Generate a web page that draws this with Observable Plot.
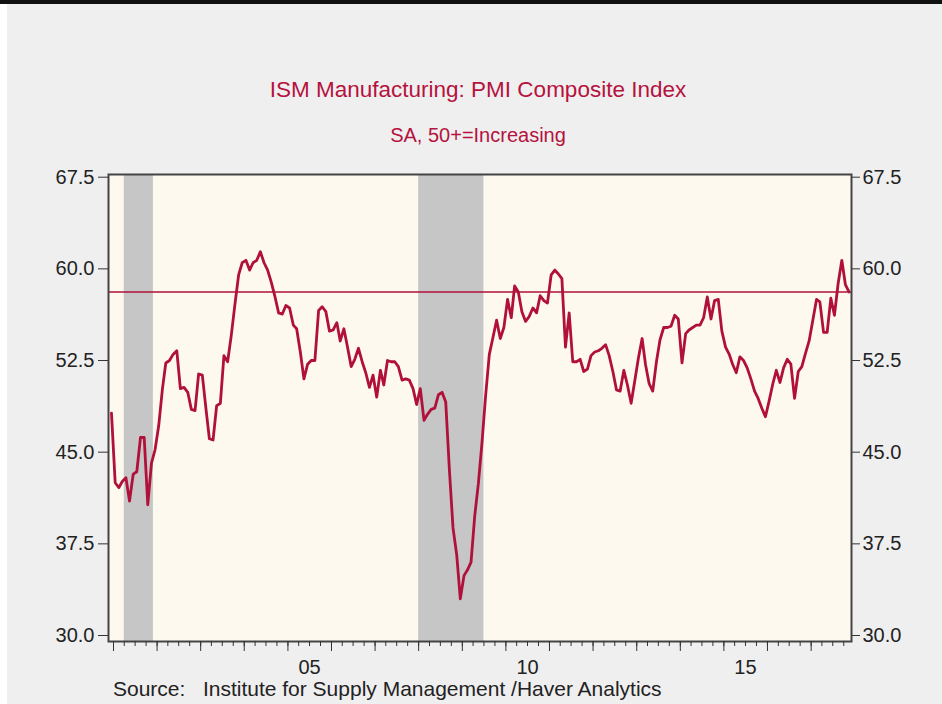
<!DOCTYPE html>
<html>
<head>
<meta charset="utf-8">
<script src="https://cdn.jsdelivr.net/npm/d3@7"></script>
<script src="https://cdn.jsdelivr.net/npm/@observablehq/plot@0.6"></script>
<style>
  html, body { margin: 0; padding: 0; background: #efefef; }
  #page { position: relative; width: 942px; height: 704px; background: #efefef; overflow: hidden;
          font-family: "Liberation Sans", Arial, sans-serif; }
  #topbar { position: absolute; left: 0; top: 0; width: 942px; height: 4px; background: #111; }
  #leftstrip { position: absolute; left: 0; top: 4px; width: 7px; height: 700px; background: #fff; }
  .head { position: absolute; left: 7px; width: 942px; text-align: center; color: #b5123e; line-height: 1; white-space: nowrap; }
  #title { top: 79px; font-size: 22.5px; }
  #subtitle { top: 125px; font-size: 20px; }
  #chart { position: absolute; left: 0; top: 150px; }
  #source { position: absolute; left: 113px; top: 678px; font-size: 21px; line-height: 1; color: #222; white-space: pre; }
</style>
</head>
<body>
<div id="page">
  <div id="topbar"></div>
  <div id="leftstrip"></div>
  <div id="title" class="head">ISM Manufacturing: PMI Composite Index</div>
  <div id="subtitle" class="head">SA, 50+=Increasing</div>
  <div id="chart"></div>
  <div id="source">Source:   Institute for Supply Management /Haver Analytics</div>
</div>
<script>
// ---- Data: ISM Manufacturing PMI, monthly (SA) ----
const pmiDec2000 = [48.2];
const pmi2001 = [42.5, 42.1, 42.6, 42.9, 41.0, 43.2, 43.4, 46.2, 46.2, 40.7, 44.1, 45.2];
const pmi2002 = [47.2, 50.2, 52.3, 52.5, 53.0, 53.3, 50.2, 50.3, 49.9, 48.5, 48.4, 51.4];
const pmi2003 = [51.3, 48.5, 46.1, 46.0, 48.8, 49.0, 52.9, 52.4, 54.6, 57.1, 59.5, 60.5];
const pmi2004 = [60.7, 59.9, 60.5, 60.7, 61.4, 60.5, 59.9, 58.9, 57.7, 56.4, 56.3, 57.0];
const pmi2005 = [56.8, 55.4, 55.1, 53.2, 51.0, 52.2, 52.5, 52.5, 56.6, 56.9, 56.5, 54.9];
const pmi2006 = [55.0, 55.6, 54.1, 55.1, 53.6, 52.0, 52.6, 53.5, 52.4, 51.5, 50.3, 51.3];
const pmi2007 = [49.5, 51.7, 50.5, 52.5, 52.4, 52.4, 52.0, 50.9, 51.0, 50.9, 50.2, 48.9];
const pmi2008 = [50.2, 47.6, 48.1, 48.5, 48.6, 49.7, 49.9, 49.1, 43.5, 38.8, 36.6, 33.0];
const pmi2009 = [34.9, 35.4, 36.0, 39.8, 42.4, 45.8, 49.6, 53.0, 54.4, 55.8, 54.3, 55.2];
const pmi2010 = [57.5, 56.0, 58.6, 58.1, 56.5, 55.7, 56.1, 56.8, 56.4, 57.8, 57.4, 57.2];
const pmi2011 = [59.5, 59.9, 59.6, 59.2, 53.6, 56.4, 52.4, 52.4, 52.6, 51.6, 51.8, 52.9];
const pmi2012 = [53.2, 53.3, 53.5, 53.8, 52.9, 51.6, 50.1, 50.0, 51.7, 50.5, 49.0, 50.8];
const pmi2013 = [52.7, 54.3, 52.2, 50.6, 50.0, 52.4, 54.2, 55.2, 55.2, 55.3, 56.2, 55.9];
const pmi2014 = [52.3, 54.7, 55.0, 55.2, 55.4, 55.4, 56.0, 57.7, 55.9, 57.4, 57.5, 54.9];
const pmi2015 = [53.6, 53.0, 52.2, 51.5, 52.8, 52.5, 51.9, 51.0, 50.0, 49.4, 48.6, 47.9];
const pmi2016 = [49.2, 50.6, 51.7, 50.7, 51.9, 52.6, 52.2, 49.4, 51.6, 52.0, 53.1, 54.1];
const pmi2017 = [55.8, 57.5, 57.3, 54.8, 54.8, 57.6, 56.2, 58.8, 60.7, 58.7, 58.1];

// Reference line (latest value)
const latestValue = [58.1];

// Recession periods (shaded)
const recessionStarts = ["2001-04-01", "2008-01-01"];
const recessionEnds   = ["2001-12-01", "2009-07-01"];

// Axis ticks and labels
const yTicks = [30.0, 37.5, 45.0, 52.5, 60.0, 67.5];
const yDomain = [29.51, 67.72];
const xLabelYears = [2005, 2010, 2015];
const xLabelTexts = ["05", "10", "15"];
const xDomain = ["2000-11-20", "2017-12-05"];

// ---- Build table ----
const yearSeries = [
  [2001, pmi2001], [2002, pmi2002], [2003, pmi2003], [2004, pmi2004], [2005, pmi2005],
  [2006, pmi2006], [2007, pmi2007], [2008, pmi2008], [2009, pmi2009], [2010, pmi2010],
  [2011, pmi2011], [2012, pmi2012], [2013, pmi2013], [2014, pmi2014], [2015, pmi2015],
  [2016, pmi2016], [2017, pmi2017]
];
const data = [{date: new Date(Date.UTC(2000, 11, 15)), value: pmiDec2000[0]}];
for (const [yr, vals] of yearSeries) {
  vals.forEach((v, i) => data.push({date: new Date(Date.UTC(yr, i, 15)), value: v}));
}
const recessions = recessionStarts.map((s, i) => ({start: new Date(s), end: new Date(recessionEnds[i])}));

const yearTicks = d3.utcYear.range(new Date(Date.UTC(2001, 0, 1)), new Date(Date.UTC(2018, 0, 1)));
const quarterTicks = d3.utcMonth.every(3).range(new Date(Date.UTC(2001, 0, 1)), new Date(Date.UTC(2017, 11, 1)));
const labelDates = xLabelYears.map(y => new Date(Date.UTC(y, 6, 1)));
const labelMap = new Map(labelDates.map((d, i) => [+d, xLabelTexts[i]]));

const lineColor = "#b0103a";
const fmt = d3.format(".1f");

const chart = Plot.plot({
  width: 942,
  height: 541,
  marginTop: 24,
  marginBottom: 50,
  marginLeft: 108,
  marginRight: 91,
  style: {background: "transparent", fontFamily: "'Liberation Sans', Arial, sans-serif", fontSize: "20px", color: "#222"},
  x: {type: "utc", domain: xDomain.map(d => new Date(d)), axis: null},
  y: {domain: yDomain, axis: null},
  marks: [
    Plot.frame({fill: "#fef9ee"}),
    Plot.rect(recessions, {x1: "start", x2: "end", y1: () => yDomain[0], y2: () => yDomain[1], fill: "#c6c6c6"}),
    Plot.ruleY(latestValue, {stroke: lineColor, strokeWidth: 1.6}),
    Plot.line(data, {x: "date", y: "value", stroke: lineColor, strokeWidth: 2.8, strokeLinejoin: "round"}),
    Plot.frame({stroke: "#444", strokeWidth: 2}),
    Plot.axisY({anchor: "left", label: null, ticks: yTicks, tickFormat: fmt, tickSize: 10, tickPadding: 4, stroke: "#333", fontSize: 20}),
    Plot.axisY({anchor: "right", label: null, ticks: yTicks, tickFormat: fmt, tickSize: 8, tickPadding: 3, stroke: "#333", fontSize: 20}),
    Plot.axisX({label: null, ticks: quarterTicks, tickSize: 5, tickFormat: () => "", stroke: "#333"}),
    Plot.axisX({label: null, ticks: yearTicks, tickSize: 10, tickFormat: () => "", stroke: "#333"}),
    Plot.axisX({label: null, ticks: labelDates, tickSize: 0, tickPadding: 18, tickFormat: d => labelMap.get(+d), fontSize: 20})
  ]
});
document.getElementById("chart").appendChild(chart);
</script>
</body>
</html>
